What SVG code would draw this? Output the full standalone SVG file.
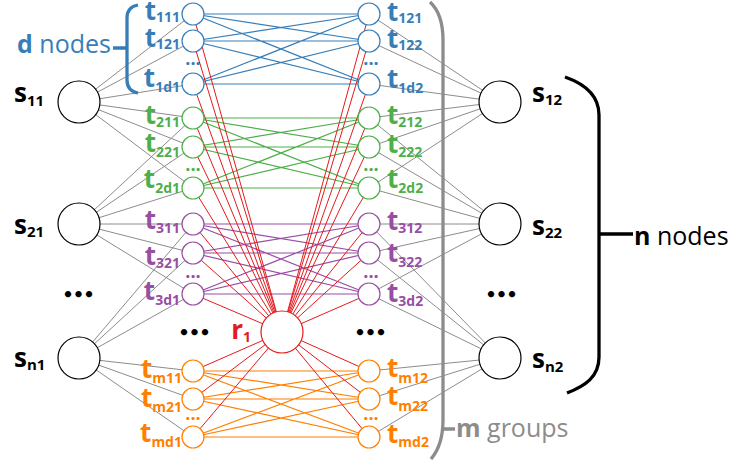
<svg xmlns="http://www.w3.org/2000/svg" width="733" height="460" viewBox="0 0 733 460">
<style>
text{font-family:"Open Sans","Noto Sans",sans-serif}
.b{font-weight:bold}
.L{font-size:26px;font-weight:bold}
.ts{font-size:14px;font-weight:bold}
.ss{font-size:15px;font-weight:bold}
.lab{font-size:25px}
.gr{stroke:#8c8c8c;stroke-width:1;fill:none}
.eb{stroke:#377eb8;stroke-width:1.2;fill:none}
.eg{stroke:#4daf4a;stroke-width:1.2;fill:none}
.ep{stroke:#984ea3;stroke-width:1.2;fill:none}
.eo{stroke:#ff7f00;stroke-width:1.2;fill:none}
.er{stroke:#e41a1c;stroke-width:1;fill:none}
.cb{fill:#fff;stroke:#377eb8;stroke-width:1.2}
.cg{fill:#fff;stroke:#4daf4a;stroke-width:1.2}
.cp{fill:#fff;stroke:#984ea3;stroke-width:1.2}
.co{fill:#fff;stroke:#ff7f00;stroke-width:1.2}
.cs{fill:#fff;stroke:#000;stroke-width:1.2}
.cr{fill:#fff;stroke:#e41a1c;stroke-width:1.2}
.fb{fill:#377eb8}.fg{fill:#4daf4a}.fp{fill:#984ea3}.fo{fill:#ff7f00}.fr{fill:#e41a1c}
.dots{font-size:18px;font-weight:bold;text-anchor:middle}
.big{font-family:"DejaVu Sans",sans-serif;font-size:18px;font-weight:bold;letter-spacing:-1px}
.brace{fill:none;stroke-width:3.3}
</style>
<g id="connectors">
<path class="gr" d="M79 102L193 14M79 102L193 41M79 102L193 84M79 102L193 118M79 102L193 147M79 102L193 188
M79 224L193 118M79 224L193 147M79 224L193 188M79 224L193 224M79 224L193 253M79 224L193 294
M79 358L193 224M79 358L193 253M79 358L193 294M79 358L193 371M79 358L193 399M79 358L193 437
M500 102L369 14M500 102L369 41M500 102L369 84M500 102L369 118M500 102L369 147M500 102L369 188
M500 224L369 118M500 224L369 147M500 224L369 188M500 224L369 224M500 224L369 253M500 224L369 294
M500 358L369 224M500 358L369 253M500 358L369 294M500 358L369 371M500 358L369 399M500 358L369 437"/>
<path class="eb" d="M193 14L369 14M193 14L369 41M193 14L369 84M193 41L369 14M193 41L369 41M193 41L369 84M193 84L369 14M193 84L369 41M193 84L369 84"/>
<path class="eg" d="M193 118L369 118M193 118L369 147M193 118L369 188M193 147L369 118M193 147L369 147M193 147L369 188M193 188L369 118M193 188L369 147M193 188L369 188"/>
<path class="ep" d="M193 224L369 224M193 224L369 253M193 224L369 294M193 253L369 224M193 253L369 253M193 253L369 294M193 294L369 224M193 294L369 253M193 294L369 294"/>
<path class="eo" d="M193 371L369 371M193 371L369 399M193 371L369 437M193 399L369 371M193 399L369 399M193 399L369 437M193 437L369 371M193 437L369 399M193 437L369 437"/>
<path class="er" d="M282 332L193 14M282 332L193 41M282 332L193 84M282 332L193 118M282 332L193 147M282 332L193 188M282 332L193 224M282 332L193 253M282 332L193 294M282 332L193 371M282 332L193 399M282 332L193 437
M282 332L369 14M282 332L369 41M282 332L369 84M282 332L369 118M282 332L369 147M282 332L369 188M282 332L369 224M282 332L369 253M282 332L369 294M282 332L369 371M282 332L369 399M282 332L369 437"/>
</g>
<g id="brackets">
<path class="brace" stroke="#377eb8" d="M138 5Q127 7 127 18L127 80Q127 91 138 93M113 48L127 48"/>
<path class="brace" stroke="#8c8c8c" d="M430 2Q443 14 443 40L443 420Q443 445 431 459M443 429L455 429"/>
<path class="brace" stroke="#000" stroke-width="3" d="M565 77C585 84 599 95 599 115L599 357C599 377 585 386 567 393M599 234L633 234"/>
<text class="lab fb" x="17" y="53"><tspan class="b">d</tspan> nodes</text>
<text class="lab" x="456" y="437" fill="#8c8c8c"><tspan class="b">m</tspan> groups</text>
<text class="lab" x="634" y="245" fill="#000"><tspan class="b">n</tspan> nodes</text>
</g>
<g id="s11"><circle class="cs" cx="79" cy="102" r="21"/><text class="L" x="14" y="102">s<tspan class="ss" dy="4">11</tspan></text></g>
<g id="s21"><circle class="cs" cx="79" cy="224" r="21"/><text class="L" x="14" y="234">s<tspan class="ss" dy="3">21</tspan></text></g>
<g id="sn1"><circle class="cs" cx="79" cy="358" r="21"/><text class="L" x="14" y="367">s<tspan class="ss" dy="3">n1</tspan></text></g>
<g id="s12"><circle class="cs" cx="500" cy="102" r="21"/><text class="L" x="532" y="102">s<tspan class="ss" dy="3">12</tspan></text></g>
<g id="s22"><circle class="cs" cx="500" cy="224" r="21"/><text class="L" x="532" y="235">s<tspan class="ss" dy="3">22</tspan></text></g>
<g id="sn2"><circle class="cs" cx="500" cy="358" r="21"/><text class="L" x="532" y="368">s<tspan class="ss" dy="4">n2</tspan></text></g>
<g id="r1"><circle class="cr" cx="282" cy="332" r="21"/><text class="L fr" x="251" y="339" text-anchor="end">r<tspan class="ts" dy="3">1</tspan></text></g>
<g id="t111"><circle class="cb" cx="193" cy="14" r="11"/><text class="L fb" x="180" y="20" text-anchor="end">t<tspan class="ts" dy="2">111</tspan></text></g>
<g id="t121"><circle class="cb" cx="193" cy="41" r="11"/><text class="L fb" x="180" y="47" text-anchor="end">t<tspan class="ts" dy="2">121</tspan></text></g>
<g id="t1d1"><circle class="cb" cx="193" cy="84" r="11"/><text class="L fb" x="180" y="87" text-anchor="end">t<tspan class="ts" dy="5">1d1</tspan></text></g>
<g id="t211"><circle class="cg" cx="193" cy="118" r="11"/><text class="L fg" x="180" y="124" text-anchor="end">t<tspan class="ts" dy="3">211</tspan></text></g>
<g id="t221"><circle class="cg" cx="193" cy="147" r="11"/><text class="L fg" x="180" y="152" text-anchor="end">t<tspan class="ts" dy="5">221</tspan></text></g>
<g id="t2d1"><circle class="cg" cx="193" cy="188" r="11"/><text class="L fg" x="180" y="188" text-anchor="end">t<tspan class="ts" dy="5">2d1</tspan></text></g>
<g id="t311"><circle class="cp" cx="193" cy="224" r="11"/><text class="L fp" x="180" y="229" text-anchor="end">t<tspan class="ts" dy="4">311</tspan></text></g>
<g id="t321"><circle class="cp" cx="193" cy="253" r="11"/><text class="L fp" x="180" y="265" text-anchor="end">t<tspan class="ts" dy="3">321</tspan></text></g>
<g id="t3d1"><circle class="cp" cx="193" cy="294" r="11"/><text class="L fp" x="180" y="300" text-anchor="end">t<tspan class="ts" dy="5">3d1</tspan></text></g>
<g id="tm11"><circle class="co" cx="193" cy="371" r="11"/><text class="L fo" x="182" y="378" text-anchor="end">t<tspan class="ts" dy="5">m11</tspan></text></g>
<g id="tm21"><circle class="co" cx="193" cy="399" r="11"/><text class="L fo" x="182" y="407" text-anchor="end">t<tspan class="ts" dy="5">m21</tspan></text></g>
<g id="tmd1"><circle class="co" cx="193" cy="437" r="11"/><text class="L fo" x="182" y="442" text-anchor="end">t<tspan class="ts" dy="5">md1</tspan></text></g>
<g id="t121r"><circle class="cb" cx="369" cy="14" r="11"/><text class="L fb" x="387" y="21">t<tspan class="ts" dy="2">121</tspan></text></g>
<g id="t122"><circle class="cb" cx="369" cy="41" r="11"/><text class="L fb" x="387" y="48">t<tspan class="ts" dy="2">122</tspan></text></g>
<g id="t1d2"><circle class="cb" cx="369" cy="84" r="11"/><text class="L fb" x="387" y="88">t<tspan class="ts" dy="5">1d2</tspan></text></g>
<g id="t212"><circle class="cg" cx="369" cy="118" r="11"/><text class="L fg" x="387" y="124">t<tspan class="ts" dy="3">212</tspan></text></g>
<g id="t222"><circle class="cg" cx="369" cy="147" r="11"/><text class="L fg" x="387" y="153">t<tspan class="ts" dy="4">222</tspan></text></g>
<g id="t2d2"><circle class="cg" cx="369" cy="188" r="11"/><text class="L fg" x="387" y="188">t<tspan class="ts" dy="5">2d2</tspan></text></g>
<g id="t312"><circle class="cp" cx="369" cy="224" r="11"/><text class="L fp" x="387" y="230">t<tspan class="ts" dy="3">312</tspan></text></g>
<g id="t322"><circle class="cp" cx="369" cy="253" r="11"/><text class="L fp" x="387" y="262">t<tspan class="ts" dy="5">322</tspan></text></g>
<g id="t3d2"><circle class="cp" cx="369" cy="294" r="11"/><text class="L fp" x="387" y="302">t<tspan class="ts" dy="4">3d2</tspan></text></g>
<g id="tm12"><circle class="co" cx="369" cy="371" r="11"/><text class="L fo" x="387" y="377">t<tspan class="ts" dy="6">m12</tspan></text></g>
<g id="tm22"><circle class="co" cx="369" cy="399" r="11"/><text class="L fo" x="387" y="405">t<tspan class="ts" dy="6">m22</tspan></text></g>
<g id="tmd2"><circle class="co" cx="369" cy="437" r="11"/><text class="L fo" x="387" y="443">t<tspan class="ts" dy="4">md2</tspan></text></g>
<g id="ellipses">
<text class="dots fb" x="193" y="65">...</text>
<text class="dots fg" x="193" y="171">...</text>
<text class="dots fp" x="193" y="278">...</text>
<text class="dots fo" x="193" y="420">...</text>
<text class="dots fb" x="371" y="65">...</text>
<text class="dots fg" x="371" y="171">...</text>
<text class="dots fp" x="371" y="278">...</text>
<text class="dots fo" x="371" y="420">...</text>
<text class="big" x="78" y="301" text-anchor="middle">•••</text>
<text class="big" x="194" y="339" text-anchor="middle">•••</text>
<text class="big" x="370" y="339" text-anchor="middle">•••</text>
<text class="big" x="501" y="301" text-anchor="middle">•••</text>
</g>
</svg>
